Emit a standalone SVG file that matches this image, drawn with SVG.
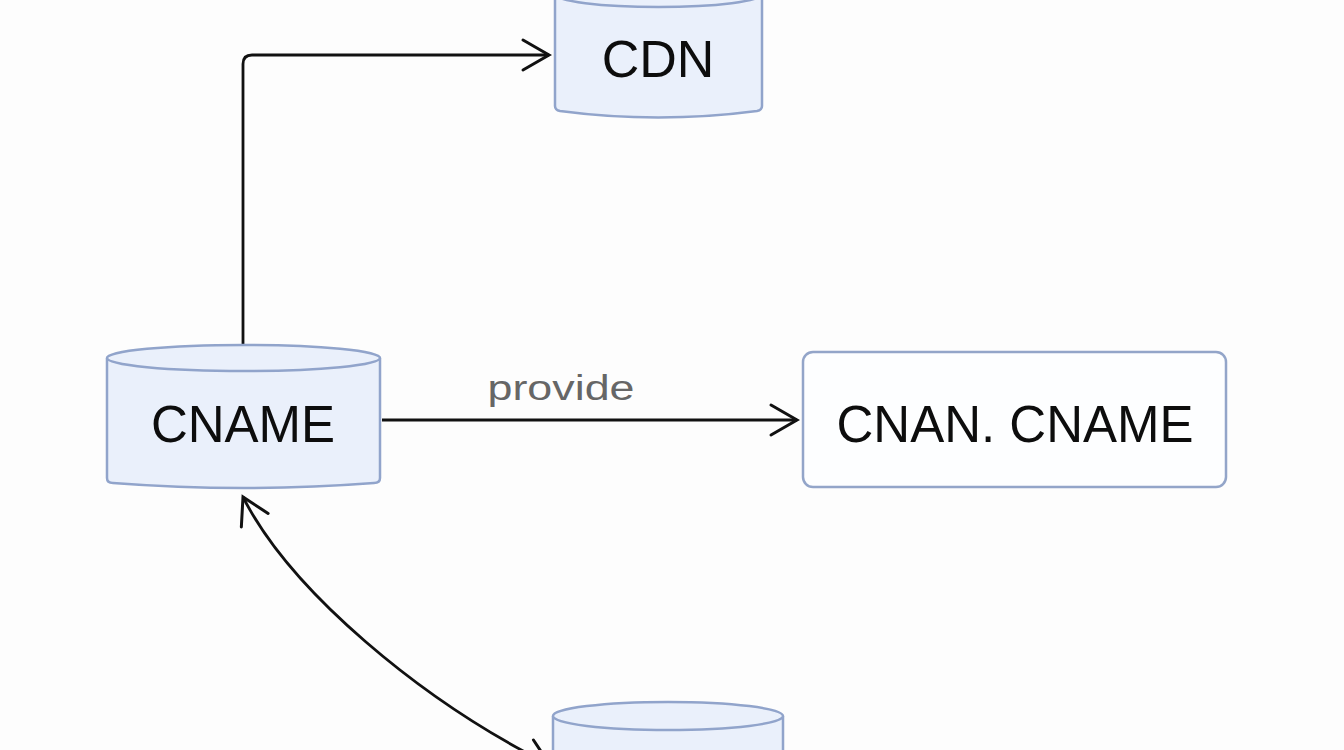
<svg xmlns="http://www.w3.org/2000/svg" width="1344" height="750" viewBox="0 0 1344 750">
<style>
.cyl{fill:#eaf0fb;stroke:#91a4cb;stroke-width:2.5}
.box{fill:#fdfeff;stroke:#93a5c9;stroke-width:2.5}
.lbl{font-family:"Liberation Sans",Arial,sans-serif;fill:#0d0d0d;text-anchor:middle}
.edge{fill:none;stroke:#111;stroke-width:2.8}
</style>
<defs>
<marker id="arr" markerUnits="userSpaceOnUse" markerWidth="40" markerHeight="40" viewBox="-30 -20 40 40" refX="0" refY="0" orient="auto-start-reverse">
<path d="M-26,-15 L0,0 L-26,15" fill="none" stroke="#111" stroke-width="3" stroke-linecap="round" stroke-linejoin="miter"/>
</marker>
</defs>
<rect width="1344" height="750" fill="#fdfdfd"/>
<g id="connectors">
<path class="edge" d="M243,345 V64 Q243,55 252,55 H549" marker-end="url(#arr)"/>
<path class="edge" d="M382,420 H797" marker-end="url(#arr)"/>
<text x="561" y="400" font-family="Liberation Sans,Arial,sans-serif" font-size="35" fill="#666" text-anchor="middle" textLength="147" lengthAdjust="spacingAndGlyphs">provide</text>
<path class="edge" d="M550,765 C420,700 290,590 243,497" marker-start="url(#arr)" marker-end="url(#arr)"/>
</g>
<g id="cdn">
<path class="cyl" d="M555,-6 V106 Q555,110 560,111 Q658,124 757,111 Q762,110 762,106 V-6"/>
<ellipse class="cyl" cx="658.5" cy="-6" rx="103.5" ry="13"/>
<text class="lbl" x="658" y="77" font-size="52">CDN</text>
</g>
<g id="cname">
<path class="cyl" d="M107,358 V478 Q107,483 113,483 Q243,493 374,483 Q380,483 380,478 V358"/>
<ellipse class="cyl" cx="243.5" cy="358" rx="136.5" ry="13"/>
<text class="lbl" x="243" y="442" font-size="51">CNAME</text>
</g>
<g id="cnan-cname">
<rect class="box" x="803" y="352" width="423" height="135" rx="10"/>
<text class="lbl" x="1015" y="442" font-size="51">CNAN. CNAME</text>
</g>
<g id="bottom-node">
<path class="cyl" d="M553,716 V760 H783 V716"/>
<ellipse class="cyl" cx="668" cy="716" rx="115" ry="14"/>
</g>
</svg>
